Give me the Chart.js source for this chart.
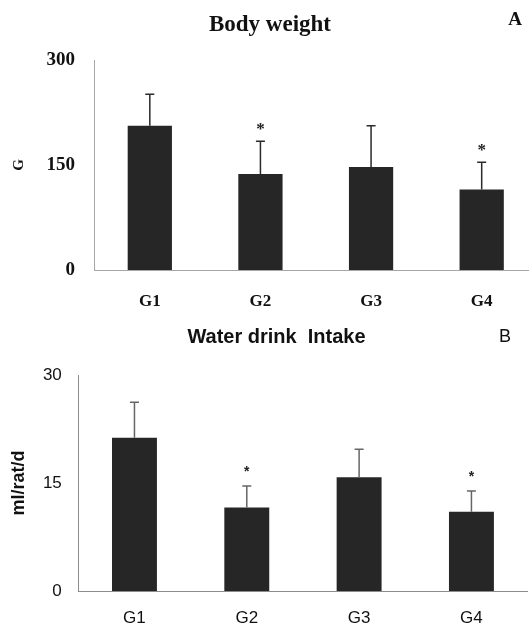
<!DOCTYPE html>
<html>
<head>
<meta charset="utf-8">
<script src="https://cdn.jsdelivr.net/npm/chart.js@4/dist/chart.umd.min.js"></script>
<style>
  html, body { margin: 0; padding: 0; background: #fff; overflow: hidden; }
  /* the original figure is cropped on the right, so the canvases run a bit
     wider than the page and get clipped */
  .panel { position: absolute; left: 0; width: 529px; overflow: hidden; }
  #panelA { top: 0; height: 310px; }
  #panelB { top: 310px; height: 316px; }
  .inner { position: absolute; left: 0; top: 0; height: 100%; width: 540px; }
</style>
</head>
<body>
<div class="panel" id="panelA"><div class="inner"><canvas id="chartA"></canvas></div></div>
<div class="panel" id="panelB"><div class="inner"><canvas id="chartB"></canvas></div></div>
<script>
// ---------------------------------------------------------------------------
// Data
// ---------------------------------------------------------------------------
const groups = ["G1", "G2", "G3", "G4"];

const bodyWeight = [206, 137, 147, 115];
const bodyWeightSD = [45, 47, 59, 39];
const bodyWeightSig = [false, true, false, true];
const bodyWeightTicks = [0, 150, 300];

const waterIntake = [21.3, 11.6, 15.8, 11.0];
const waterIntakeSD = [4.9, 3.0, 3.9, 2.9];
const waterIntakeSig = [false, true, false, true];
const waterIntakeTicks = [0, 15, 30];

const SERIF = "'Liberation Serif', 'DejaVu Serif', serif";
const SANS = "'Liberation Sans', Arial, sans-serif";

// ---------------------------------------------------------------------------
// Plugin: error bars (upper only), significance stars, title and panel letter
// ---------------------------------------------------------------------------
const errorBarPlugin = {
  id: "errorBars",
  afterDatasetsDraw(chart, args, opts) {
    const { ctx } = chart;
    const yScale = chart.scales.y;
    const meta = chart.getDatasetMeta(0);
    const values = chart.data.datasets[0].data;
    ctx.save();
    meta.data.forEach((bar, i) => {
      const top = yScale.getPixelForValue(values[i] + opts.sd[i]);
      ctx.strokeStyle = opts.color;
      ctx.lineWidth = 1.5;
      ctx.beginPath();
      ctx.moveTo(bar.x, bar.y);
      ctx.lineTo(bar.x, top);
      ctx.moveTo(bar.x - opts.cap, top);
      ctx.lineTo(bar.x + opts.cap, top);
      ctx.stroke();
      if (opts.sig[i]) {
        ctx.fillStyle = "#222";
        ctx.font = opts.starFont;
        ctx.textAlign = "center";
        ctx.textBaseline = "middle";
        ctx.fillText("*", bar.x, top - opts.starGap);
      }
    });
    ctx.restore();
  },
  afterDraw(chart, args, opts) {
    // the title sits a little off the plot centre in the original, so it is
    // placed here rather than through the title plugin
    const { ctx } = chart;
    ctx.save();
    ctx.fillStyle = "#111";
    ctx.textAlign = "center";
    ctx.textBaseline = "middle";
    ctx.font = opts.titleFont;
    ctx.fillText(opts.title, opts.titleX, opts.titleY);
    ctx.font = opts.letterFont;
    ctx.fillText(opts.letter, opts.letterX, opts.letterY);
    ctx.restore();
  },
};

// ---------------------------------------------------------------------------
// Builder
// ---------------------------------------------------------------------------
function makeChart(id, cfg) {
  return new Chart(document.getElementById(id), {
    type: "bar",
    data: {
      labels: groups,
      datasets: [{
        data: cfg.values,
        backgroundColor: "#262626",
        borderWidth: 0,
        barPercentage: 0.4,
        categoryPercentage: 1,
      }],
    },
    plugins: [errorBarPlugin],
    options: {
      responsive: true,
      maintainAspectRatio: false,
      animation: false,
      layout: { padding: { left: 0, right: cfg.padRight, top: cfg.padTop, bottom: 0 } },
      plugins: {
        legend: { display: false },
        tooltip: { enabled: false },
        title: { display: false },
        errorBars: {
          sd: cfg.sd,
          sig: cfg.sig,
          color: cfg.errColor,
          cap: 4.5,
          starFont: cfg.starFont,
          starGap: cfg.starGap,
          title: cfg.title,
          titleFont: cfg.titleFont,
          titleX: cfg.titleX,
          titleY: cfg.titleY,
          letter: cfg.letter,
          letterFont: cfg.letterFont,
          letterX: cfg.letterX,
          letterY: cfg.letterY,
        },
      },
      scales: {
        x: {
          grid: { display: false, drawTicks: false },
          border: { display: true, color: cfg.axisColor, width: 1 },
          ticks: {
            color: "#111",
            padding: cfg.xPad,
            font: { family: cfg.family, size: 17, weight: cfg.tickWeight },
          },
          afterFit(scale) { scale.height = cfg.xHeight; },
        },
        y: {
          min: 0,
          max: cfg.ticks[cfg.ticks.length - 1],
          afterBuildTicks(scale) { scale.ticks = cfg.ticks.map(v => ({ value: v })); },
          grid: { display: false, drawTicks: false },
          border: { display: true, color: cfg.axisColor, width: 1 },
          ticks: {
            color: "#111",
            padding: cfg.yPad,
            font: { family: cfg.family, size: cfg.yTickSize, weight: cfg.tickWeight },
          },
          title: {
            display: true,
            text: cfg.yTitle,
            color: "#111",
            font: { family: cfg.family, size: cfg.yTitleSize, weight: "bold" },
            padding: { top: cfg.yTitleTop, bottom: 0 },
          },
          afterFit(scale) { scale.width = cfg.yWidth; },
        },
      },
    },
  });
}

makeChart("chartA", {
  values: bodyWeight, sd: bodyWeightSD, sig: bodyWeightSig, ticks: bodyWeightTicks,
  family: SERIF, tickWeight: "bold",
  title: "Body weight", titleFont: "bold 23px " + SERIF, titleX: 270, titleY: 25,
  yTitle: "G", yTitleSize: 15, yTitleTop: 10.5,
  yTickSize: 19, yPad: 19.5, yWidth: 94.5,
  xPad: 21, xHeight: 40, padRight: 3, padTop: 60,
  axisColor: "#a6a6a6", errColor: "#2a2a2a",
  starFont: "bold 17px " + SERIF, starGap: 12,
  letter: "A", letterFont: "bold 19px " + SERIF, letterX: 515, letterY: 20,
});

makeChart("chartB", {
  values: waterIntake, sd: waterIntakeSD, sig: waterIntakeSig, ticks: waterIntakeTicks,
  family: SANS, tickWeight: "normal",
  title: "Water drink  Intake", titleFont: "bold 20px " + SANS, titleX: 276.5, titleY: 27,
  yTitle: "ml/rat/d", yTitleSize: 18, yTitleTop: 8,
  yTickSize: 17, yPad: 16.5, yWidth: 78.3,
  xPad: 17, xHeight: 35, padRight: 12.4, padTop: 65,
  axisColor: "#8c8c8c", errColor: "#666",
  starFont: "bold 14px " + SANS, starGap: 14,
  letter: "B", letterFont: "18px " + SANS, letterX: 505, letterY: 27,
});
</script>
</body>
</html>
